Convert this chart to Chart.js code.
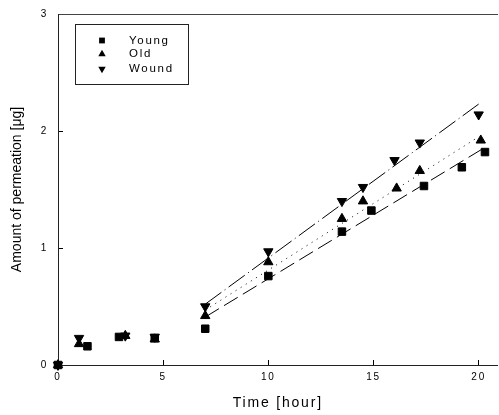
<!DOCTYPE html>
<html><head><meta charset="utf-8">
<script src="https://cdn.jsdelivr.net/npm/chart.js@4"></script>
<style>html,body{margin:0;padding:0;background:#fff;overflow:hidden}#wrap{width:499px;height:415px;position:relative;overflow:hidden}canvas{display:block}</style>
</head><body><div id="wrap"><canvas id="c" width="504" height="415"></canvas></div>
<script>
// ---- data ----
const seriesNames = ['Young', 'Old', 'Wound'];
const youngTime   = [0, 1.4, 2.9, 4.6, 7.0, 10.0, 13.5, 14.9, 17.4, 19.2, 20.3];
const youngAmount = [0, 0.16, 0.24, 0.23, 0.31, 0.76, 1.14, 1.32, 1.53, 1.69, 1.82];
const oldTime     = [0, 1.0, 3.2, 4.6, 7.0, 10.0, 13.5, 14.5, 16.1, 17.2, 20.1];
const oldAmount   = [0, 0.18, 0.25, 0.22, 0.42, 0.88, 1.25, 1.40, 1.51, 1.66, 1.92];
const woundTime   = [0, 1.0, 3.2, 4.6, 7.0, 10.0, 13.5, 14.5, 16.0, 17.2, 20.0];
const woundAmount = [0, 0.23, 0.25, 0.24, 0.50, 0.97, 1.40, 1.52, 1.75, 1.90, 2.14];
// regression lines (end points)
const fitYoungTime   = [7.0, 20.3];
const fitYoungAmount = [0.41, 1.86];
const fitOldTime     = [7.0, 20.0];
const fitOldAmount   = [0.47, 1.95];
const fitWoundTime   = [7.0, 20.0];
const fitWoundAmount = [0.52, 2.23];
const xTicks = [0, 5, 10, 15, 20];
const yTicks = [0, 1, 2, 3];
const xTitle = 'Time [hour]';
const yTitle = 'Amount of permeation [μg]';

const FONT = "'Liberation Sans', Arial, sans-serif";
const pts = (xs, ys) => xs.map((x, i) => ({x: x, y: ys[i]}));

const markerStyles = [
  {pointStyle: 'rect', rotation: 0, radius: 5.3},
  {pointStyle: 'triangle', rotation: 0, radius: 5.4},
  {pointStyle: 'triangle', rotation: 180, radius: 5.4}
];

function scatterSet(name, xs, ys, m) {
  return {label: name, data: pts(xs, ys), showLine: false, clip: false,
    pointStyle: m.pointStyle, rotation: m.rotation, pointRadius: m.radius,
    backgroundColor: '#000', borderColor: '#000', borderWidth: 1};
}
function fitSet(name, xs, ys, dash) {
  return {label: name, data: pts(xs, ys), showLine: true, pointRadius: 0, clip: false,
    borderColor: '#000', borderWidth: 1, borderDash: dash, fill: false};
}

const letterSpace = {
  id: 'letterSpace',
  afterLayout(chart) {
    const ys = chart.scales.y;
    if (ys && !ys._noSpacePatch) {
      const orig = ys.drawTitle;
      ys.drawTitle = function () {
        const c = this.ctx; const o = c.letterSpacing;
        c.letterSpacing = '0px'; orig.apply(this, arguments); c.letterSpacing = o;
      };
      ys._noSpacePatch = true;
    }
  },
  beforeDraw(chart) { chart.ctx.letterSpacing = '1.8px'; },
  afterDraw(chart) { chart.ctx.letterSpacing = '0px'; }
};

const boxLegend = {
  id: 'boxLegend',
  afterDraw(chart) {
    const ctx = chart.ctx, ca = chart.chartArea;
    const x0 = ca.left + 17, y0 = ca.top + 10, w = 113, h = 60;
    ctx.save();
    ctx.strokeStyle = '#222'; ctx.lineWidth = 1;
    ctx.strokeRect(Math.round(x0) + 0.5, Math.round(y0) + 0.5, w, h);
    const rows = [16.5, 30, 45];
    const lm = [
      {pointStyle: 'rect', rotation: 0, radius: 4.1, borderWidth: 0},
      {pointStyle: 'triangle', rotation: 0, radius: 4.3, borderWidth: 0},
      {pointStyle: 'triangle', rotation: 180, radius: 4.3, borderWidth: 0}
    ];
    ctx.fillStyle = '#000';
    ctx.font = '11.5px ' + FONT;
    ctx.textBaseline = 'middle'; ctx.textAlign = 'left';
    ctx.letterSpacing = '1.7px';
    seriesNames.forEach((n, i) => {
      Chart.helpers.drawPoint(ctx, lm[i], x0 + 27, y0 + rows[i]);
      ctx.fillText(n, x0 + 54, y0 + rows[i]);
    });
    ctx.restore();
  }
};

const noPad = s => { s.paddingLeft = 0; s.paddingRight = 0; s.paddingTop = 0; s.paddingBottom = 0; };

new Chart(document.getElementById('c'), {
  type: 'scatter',
  data: {datasets: [
    scatterSet(seriesNames[0], youngTime, youngAmount, markerStyles[0]),
    scatterSet(seriesNames[1], oldTime, oldAmount, markerStyles[1]),
    scatterSet(seriesNames[2], woundTime, woundAmount, markerStyles[2]),
    fitSet('fit ' + seriesNames[0], fitYoungTime, fitYoungAmount, [16, 6]),
    fitSet('fit ' + seriesNames[1], fitOldTime, fitOldAmount, [1, 5]),
    fitSet('fit ' + seriesNames[2], fitWoundTime, fitWoundAmount, [20, 4, 1, 4])
  ]},
  options: {
    responsive: false, animation: false, devicePixelRatio: 1,
    layout: {padding: 0},
    plugins: {legend: {display: false}, tooltip: {enabled: false}},
    scales: {
      x: {
        type: 'linear', position: 'bottom', min: 0, max: 20.9,
        afterBuildTicks: s => { s.ticks = xTicks.map(v => ({value: v})); },
        ticks: {font: {family: FONT, size: 10}, color: '#000', padding: 11, maxRotation: 0, autoSkip: false},
        grid: {drawOnChartArea: false, drawTicks: true, tickLength: -5, color: '#000', lineWidth: 1},
        border: {display: true, color: '#222', width: 1},
        title: {display: true, text: xTitle, font: {family: FONT, size: 14}, color: '#000', padding: {top: 0, bottom: 3.6}},
        afterFit: s => { s.height = 50; noPad(s); }
      },
      x2: {
        type: 'linear', position: 'top', min: 0, max: 20.9,
        ticks: {display: false},
        grid: {drawOnChartArea: false, drawTicks: false},
        border: {display: true, color: '#444', width: 1},
        afterFit: s => { s.height = 14; noPad(s); }
      },
      y: {
        type: 'linear', position: 'left', min: 0, max: 3,
        afterBuildTicks: s => { s.ticks = yTicks.map(v => ({value: v})); },
        ticks: {font: {family: FONT, size: 10}, color: '#000', padding: 15, autoSkip: false},
        grid: {drawOnChartArea: false, drawTicks: true, tickLength: -5, color: '#000', lineWidth: 1},
        border: {display: true, color: '#222', width: 1},
        title: {display: true, text: yTitle, font: {family: FONT, size: 14}, color: '#000', padding: {top: 8.6, bottom: 0}},
        afterFit: s => { s.width = 58; noPad(s); }
      }
    }
  },
  plugins: [letterSpace, boxLegend]
});
</script>
</body></html>
